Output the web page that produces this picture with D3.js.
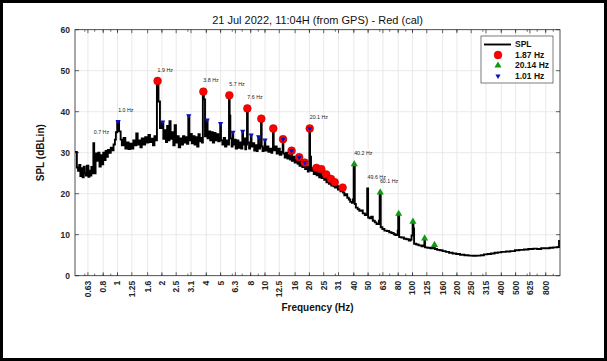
<!DOCTYPE html>
<html>
<head>
<meta charset="utf-8">
<script src="https://cdn.jsdelivr.net/npm/d3@7"></script>
<style>
  body { margin: 0; background: #fff; }
  svg { display: block; font-family: "Liberation Sans", Arial, Helvetica, sans-serif; }
</style>
</head>
<body>
<script>
// narrow-band SPL spectrum, drawn as stairs (Hz, dB)
const freqHz = [
  0.515, 0.53, 0.54, 0.55, 0.56, 0.57, 0.58, 0.59, 0.60, 0.61, 0.62, 0.635, 0.645, 0.655, 0.665, 0.678, 0.686, 0.695,
  0.71, 0.725, 0.74, 0.755, 0.77, 0.785, 0.80, 0.815, 0.83, 0.845, 0.86, 0.88, 0.90, 0.92, 0.94, 0.96, 0.975, 0.995,
  1.025, 1.05, 1.07, 1.10, 1.13, 1.16, 1.19, 1.22, 1.25, 1.28, 1.31, 1.34, 1.37, 1.40, 1.43, 1.46, 1.50, 1.54, 1.58,
  1.62, 1.66, 1.70, 1.74, 1.78, 1.82, 1.85, 1.895, 1.94, 2.00, 2.045, 2.09, 2.13, 2.17, 2.21, 2.25, 2.29, 2.34, 2.39,
  2.44, 2.49, 2.54, 2.60, 2.66, 2.72, 2.78, 2.84, 2.90, 2.96, 3.02, 3.07, 3.13, 3.19, 3.26, 3.33, 3.40, 3.47, 3.54,
  3.61, 3.68, 3.74, 3.79, 3.85, 3.92, 3.97, 4.02, 4.08, 4.16, 4.25, 4.34, 4.43, 4.52, 4.62, 4.72, 4.82, 4.92, 4.97,
  5.03, 5.14, 5.25, 5.36, 5.47, 5.58, 5.70, 5.76, 5.82, 5.94, 6.03, 6.09, 6.2, 6.33, 6.46, 6.6, 6.75, 6.9, 7.02, 7.1,
  7.22, 7.35, 7.45, 7.55, 7.64, 7.8, 7.92, 8.01, 8.1, 8.28, 8.45, 8.62, 8.8, 8.92, 9.0, 9.1, 9.25, 9.40, 9.49, 9.62,
  9.78, 9.95, 10.05, 10.3, 10.55, 10.8, 11.05, 11.2, 11.32, 11.45, 11.7, 12.0, 12.3, 12.6, 12.9, 13.18, 13.32, 13.6,
  13.9, 14.2, 14.5, 14.8, 15.08, 15.23, 15.55, 15.9, 16.3, 16.65, 16.97, 17.13, 17.5, 17.9, 18.2, 18.5, 18.7, 19.1,
  19.5, 19.8, 20.0, 20.2, 20.5, 20.9, 21.4, 21.8, 22.2, 22.4, 22.8, 23.3, 23.7, 24.0, 24.2, 24.7, 25.2, 25.6, 25.9,
  26.1, 26.6, 27.1, 27.5, 27.85, 28.15, 28.7, 29.2, 29.55, 29.85, 30.5, 31.2, 31.8, 32.5, 33.0, 33.4, 33.8, 34.5,
  35.3, 36.1, 37.0, 37.8, 38.8, 39.4, 39.9, 40.6, 41.3, 42.5, 43.6, 44.8, 46.0, 47.5, 48.5, 49.3, 50.0, 51.2, 52.5,
  53.8, 55.5, 57.0, 58.4, 59.2, 59.9, 60.9, 62.5, 64.5, 67.0, 69.5, 72.0, 74.5, 76.5, 78.5, 79.4, 80.0, 81.2, 84.0,
  87.5, 91.0, 94.5, 97.0, 98.5, 100.2, 101.5, 102.5, 106, 110, 115, 118.5, 120.4, 121.5, 126, 132, 137, 140.5, 141.6,
  147, 153, 160, 168, 177, 187, 198, 210, 225, 240, 255, 272, 290, 305, 322, 340, 360, 380, 400, 430, 460, 495, 530,
  570, 610, 660, 700, 745, 800, 850, 900, 960, 985, 1000
];
const splDb = [
  30.2, 26.4, 25.6, 27.0, 24.3, 26.2, 24.0, 26.6, 25.0, 24.4, 26.8, 24.1, 25.6, 24.4, 26.5, 25.0, 32.3, 25.0,
  29.8, 28.0, 30.0, 26.6, 29.4, 27.2, 30.0, 28.2, 30.4, 29.0, 30.7, 30.0, 31.2, 30.6, 32.0, 33.2, 35.0, 37.6,
  35.2, 33.2, 31.8, 33.6, 31.0, 32.5, 30.9, 32.2, 31.0, 33.0, 31.8, 34.7, 32.0, 33.0, 31.3, 33.5, 32.0, 33.8, 32.5,
  34.3, 32.6, 33.4, 31.8, 34.0, 33.0, 47.5, 42.5, 36.0, 37.5, 33.4, 35.5, 32.6, 36.5, 33.0, 37.7, 33.4, 35.0, 31.8,
  36.7, 32.5, 34.0, 31.3, 33.5, 32.0, 34.0, 32.5, 33.8, 32.2, 39.0, 33.0, 34.6, 32.3, 34.0, 32.0, 33.8, 31.5, 34.5,
  32.8, 33.6, 32.5, 44.9, 43.0, 34.0, 36.0, 38.0, 33.5, 35.2, 33.0, 35.0, 32.5, 34.8, 33.0, 34.5, 32.8, 33.5, 37.1,
  33.0, 32.0, 33.6, 31.5, 33.0, 32.0, 44.0, 39.0, 33.5, 31.5, 35.0, 32.0, 33.2, 31.0, 33.0, 31.2, 32.5, 31.0, 35.2, 32.0,
  33.5, 30.8, 32.0, 40.8, 32.5, 31.0, 32.0, 34.3, 31.5, 32.3, 30.5, 31.8, 30.4, 31.5, 33.9, 31.0, 32.0, 38.3, 31.5, 30.4,
  31.2, 33.1, 30.5, 31.5, 30.2, 31.0, 30.0, 31.0, 35.9, 30.6, 31.5, 29.8, 31.0, 29.5, 30.2, 33.3, 29.8, 28.8,
  30.0, 28.6, 29.4, 28.3, 30.5, 28.0, 29.0, 27.6, 28.3, 27.3, 28.9, 26.8, 27.8, 26.5, 27.0, 27.6, 26.0, 26.6,
  25.4, 25.8, 35.9, 29.0, 25.6, 26.2, 24.8, 25.4, 26.3, 24.5, 25.0, 24.0, 24.6, 26.0, 23.8, 24.2, 23.4, 24.0, 24.7,
  22.8, 23.4, 22.4, 23.0, 23.6, 22.0, 22.6, 21.8, 22.8, 21.5, 21.9, 21.0, 21.6, 20.6, 21.0, 21.5, 20.3, 19.6,
  19.9, 19.0, 18.6, 18.0, 17.8, 18.6, 27.2, 17.5, 16.6, 16.2, 15.8, 15.9, 15.2, 14.8, 15.0, 21.3, 14.2, 14.0, 14.4,
  13.4, 13.0, 12.6, 12.6, 13.4, 20.3, 11.8, 11.4, 11.0, 10.9, 10.6, 10.4, 10.1, 9.9, 10.0, 11.0, 15.1, 9.4, 9.3,
  9.0, 8.9, 8.6, 8.8, 9.8, 13.2, 11.5, 7.8, 7.6, 7.4, 7.2, 7.4, 9.1, 6.9, 6.8, 6.7, 6.8, 7.5, 6.5,
  6.3, 6.2, 6.0, 5.8, 5.6, 5.4, 5.3, 5.1, 5.0, 4.9, 4.85, 4.9, 5.0, 5.2, 5.3, 5.4, 5.6, 5.7, 5.8, 5.9, 6.0, 6.2, 6.3,
  6.4, 6.5, 6.6, 6.5, 6.7, 6.7, 6.8, 6.9, 7.0, 8.5, 8.5
];

// harmonic peak markers
const redHz = [1.87, 3.82, 5.73, 7.59, 9.44, 11.38, 13.25, 15.15, 17.05, 18.6, 20.1, 22.3, 24.1, 26.0, 28.0, 29.7, 33.6];
const redDb = [47.5, 44.9, 44.0, 40.8, 38.3, 35.9, 33.3, 30.5, 28.9, 27.6, 35.9, 26.3, 26.0, 24.7, 23.6, 22.8, 21.5];
const greenHz = [40.28, 60.42, 80.56, 100.7, 120.84, 140.98];
const greenDb = [27.2, 20.3, 15.1, 13.2, 9.1, 7.5];
const blueHz = [1.01, 2.02, 3.04, 4.05, 5.0, 6.06, 7.06, 8.05, 9.05, 10.0, 13.25, 15.15, 17.05, 18.6, 20.1];
const blueDb = [37.6, 37.5, 39.0, 38.0, 37.1, 35.0, 35.2, 34.3, 33.9, 33.1, 33.3, 30.5, 28.9, 27.6, 35.9];

// peaks annotated with their frequency
const labelHz = [0.69, 1.01, 1.87, 3.82, 5.73, 7.59, 20.1, 40.2, 49.6, 60.1];
const labelDb = [32.3, 37.6, 47.5, 44.9, 44.0, 40.8, 35.9, 27.2, 21.3, 20.3];

const legendNames = ["SPL", "1.87 Hz", "20.14 Hz", "1.01 Hz"];

const xTickHz = [0.63, 0.8, 1, 1.25, 1.6, 2, 2.5, 3.15, 4, 5, 6.3, 8, 10, 12.5, 16, 20, 25, 31.5, 40, 50, 63, 80,
  100, 125, 160, 200, 250, 315, 400, 500, 625, 800];
const xTickText = ["0.63", "0.8", "1", "1.25", "1.6", "2", "2.5", "3.1", "4", "5", "6.3", "8", "10", "12.5", "16",
  "20", "25", "31", "40", "50", "63", "80", "100", "125", "160", "200", "250", "315", "400", "500", "625", "800"];
const yTicks = [0, 10, 20, 30, 40, 50, 60];

const W = 607, H = 361;
const plotL = 75, plotR = 560, plotT = 29.7, plotB = 275.7;

const svg = d3.select("body").append("svg")
  .attr("width", W)
  .attr("height", H);

// figure frame
svg.append("rect")
  .attr("x", 1.5).attr("y", 1.5)
  .attr("width", W - 3).attr("height", H - 3)
  .attr("fill", "#fff")
  .attr("stroke", "#000")
  .attr("stroke-width", 3);

const x = d3.scaleLog().domain([0.515, 1000]).range([plotL, plotR]);
const y = d3.scaleLinear().domain([0, 60]).range([plotB, plotT]);

// grid
const grid = svg.append("g").attr("stroke", "#e3e3e3").attr("stroke-width", 0.8);
grid.selectAll(".gx").data(xTickHz).join("line")
  .attr("x1", d => x(d)).attr("x2", d => x(d))
  .attr("y1", plotT).attr("y2", plotB);
grid.selectAll(".gy").data(yTicks.slice(1, -1)).join("line")
  .attr("x1", plotL).attr("x2", plotR)
  .attr("y1", d => y(d)).attr("y2", d => y(d));

// minor ticks on the log axis
const minorHz = [];
[0.1, 1, 10, 100].forEach(dec => {
  for (let k = 1; k < 10; k++) {
    const v = dec * k;
    if (v > 0.515 && v < 1000) minorHz.push(v);
  }
});

const ticks = svg.append("g").attr("stroke", "#262626").attr("stroke-width", 0.7);
function tickSet(data, x1, x2, y1, y2) {
  ticks.append("g").selectAll("line").data(data).join("line")
    .attr("x1", x1).attr("x2", x2).attr("y1", y1).attr("y2", y2);
}
tickSet(minorHz, d => x(d), d => x(d), plotB, plotB - 2);
tickSet(minorHz, d => x(d), d => x(d), plotT, plotT + 2);
tickSet(xTickHz, d => x(d), d => x(d), plotB, plotB - 3.5);
tickSet(xTickHz, d => x(d), d => x(d), plotT, plotT + 3.5);
tickSet(yTicks, plotL, plotL + 4, d => y(d), d => y(d));
tickSet(yTicks, plotR, plotR - 4, d => y(d), d => y(d));

// SPL stairs
const spectrum = freqHz.map((f, i) => [f, splDb[i]]);
svg.append("path")
  .datum(spectrum)
  .attr("fill", "none")
  .attr("stroke", "#000")
  .attr("stroke-width", 1.9)
  .attr("d", d3.line().x(d => x(d[0])).y(d => y(d[1])).curve(d3.curveStepAfter));

// markers
const tri = d3.symbol().type(d3.symbolTriangle);
svg.append("g").selectAll("circle")
  .data(redHz.map((f, i) => [f, redDb[i]]))
  .join("circle")
  .attr("cx", d => x(d[0])).attr("cy", d => y(d[1]))
  .attr("r", 3.9)
  .attr("fill", "#ff0000")
  .attr("stroke", "#b00000")
  .attr("stroke-width", 0.5);

svg.append("g").selectAll("path")
  .data(greenHz.map((f, i) => [f, greenDb[i]]))
  .join("path")
  .attr("d", tri.size(22))
  .attr("transform", d => `translate(${x(d[0])},${y(d[1])})`)
  .attr("fill", "#119911");

svg.append("g").selectAll("path")
  .data(blueHz.map((f, i) => [f, blueDb[i]]))
  .join("path")
  .attr("d", tri.size(12))
  .attr("transform", d => `translate(${x(d[0])},${y(d[1])}) rotate(180)`)
  .attr("fill", "#1010b8");

// peak annotations
svg.append("g").selectAll("text")
  .data(labelHz.map((f, i) => [f, labelDb[i]]))
  .join("text")
  .attr("x", d => x(d[0]))
  .attr("y", d => y(d[1]) - 11)
  .attr("dy", "0.35em")
  .attr("font-size", 5.3)
  .attr("fill", "#222")
  .text(d => d[0].toFixed(1) + " Hz");

// axes box
svg.append("rect")
  .attr("x", plotL).attr("y", plotT)
  .attr("width", plotR - plotL).attr("height", plotB - plotT)
  .attr("fill", "none")
  .attr("stroke", "#262626")
  .attr("stroke-width", 0.8);

// tick labels
svg.append("g").selectAll("text")
  .data(yTicks)
  .join("text")
  .attr("x", plotL - 5)
  .attr("y", d => y(d))
  .attr("dy", "0.35em")
  .attr("text-anchor", "end")
  .attr("font-size", 8.5)
  .attr("font-weight", "bold")
  .attr("fill", "#262626")
  .text(d => d);

svg.append("g").selectAll("text")
  .data(xTickHz)
  .join("text")
  .attr("transform", d => `translate(${x(d)},${plotB + 5}) rotate(-90)`)
  .attr("dy", "0.35em")
  .attr("text-anchor", "end")
  .attr("font-size", 8.5)
  .attr("font-weight", "bold")
  .attr("fill", "#262626")
  .text((d, i) => xTickText[i]);

// titles
svg.append("text")
  .attr("x", (plotL + plotR) / 2).attr("y", 23.8)
  .attr("text-anchor", "middle")
  .attr("font-size", 11)
  .attr("fill", "#111")
  .text("21 Jul 2022, 11:04H (from GPS) - Red (cal)");

svg.append("text")
  .attr("x", (plotL + plotR) / 2).attr("y", 310.5)
  .attr("text-anchor", "middle")
  .attr("font-size", 10)
  .attr("font-weight", "bold")
  .attr("fill", "#111")
  .text("Frequency (Hz)");

svg.append("text")
  .attr("transform", `translate(44,${(plotT + plotB) / 2}) rotate(-90)`)
  .attr("text-anchor", "middle")
  .attr("font-size", 10)
  .attr("font-weight", "bold")
  .attr("fill", "#111")
  .text("SPL (dBLin)");

// legend
const lg = svg.append("g");
lg.append("rect")
  .attr("x", 481).attr("y", 36)
  .attr("width", 72).attr("height", 47)
  .attr("fill", "#fff")
  .attr("stroke", "#262626")
  .attr("stroke-width", 0.6);
const rowY = [44.5, 55, 65.5, 76];
lg.append("line")
  .attr("x1", 484).attr("x2", 511)
  .attr("y1", rowY[0]).attr("y2", rowY[0])
  .attr("stroke", "#000").attr("stroke-width", 1.9);
lg.append("circle")
  .attr("cx", 498).attr("cy", rowY[1]).attr("r", 3.9)
  .attr("fill", "#ff0000").attr("stroke", "#b00000").attr("stroke-width", 0.5);
lg.append("path")
  .attr("d", tri.size(22))
  .attr("transform", `translate(498,${rowY[2]})`)
  .attr("fill", "#119911");
lg.append("path")
  .attr("d", tri.size(12))
  .attr("transform", `translate(498,${rowY[3]}) rotate(180)`)
  .attr("fill", "#1010b8");
lg.selectAll(".lt").data(legendNames).join("text")
  .attr("x", 515)
  .attr("y", (d, i) => rowY[i])
  .attr("dy", "0.35em")
  .attr("font-size", 8.5)
  .attr("font-weight", "bold")
  .attr("fill", "#111")
  .text(d => d);
</script>
</body>
</html>
